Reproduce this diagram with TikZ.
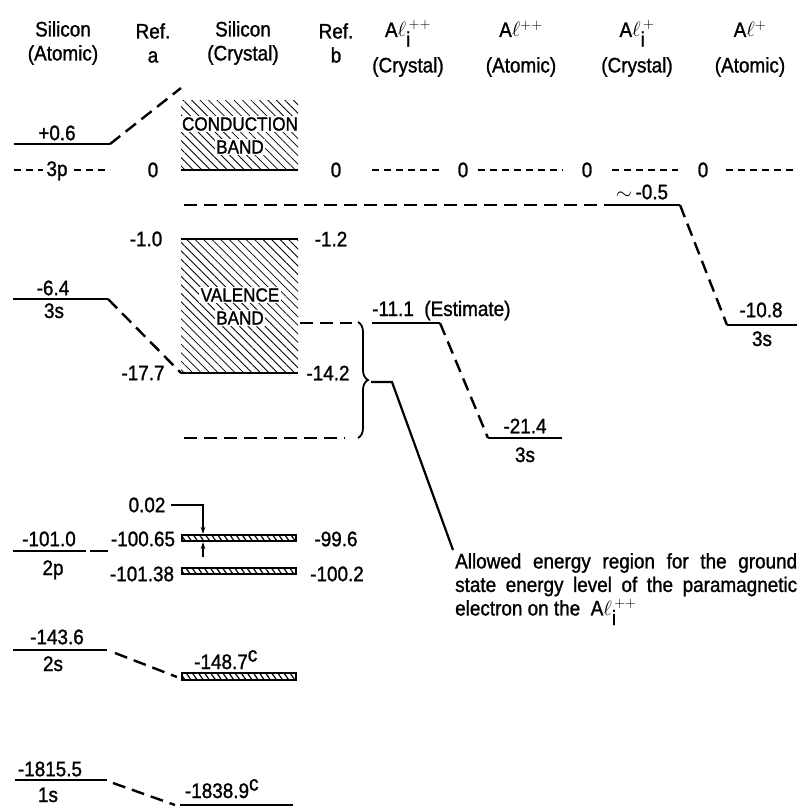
\documentclass[tikz,border=0pt]{standalone}
\usepackage{fontspec}
\setmainfont[FakeStretch=0.9,FakeBold=1.2]{Liberation Sans}
\usetikzlibrary{patterns.meta,decorations.pathreplacing,arrows.meta}
\begin{document}
\begin{tikzpicture}[x=1pt,y=-1pt,
  txt/.style={font=\fontsize{21}{24}\selectfont, inner sep=0pt},
  hdr/.style={txt, align=center, font=\fontsize{21}{24}\selectfont},
  bandlbl/.style={font=\fontsize{19}{22}\selectfont, fill=white, inner sep=1.5pt},
  lvl/.style={line width=2.4pt},
  bigdash/.style={line width=2.4pt, dash pattern=on 13pt off 7pt},
  smalldash/.style={line width=2pt, dash pattern=on 7pt off 5pt},
  hatch/.style={pattern={Lines[angle=-45,distance=6pt,line width=0.8pt]}},
  thinband/.style={line width=1.2pt, pattern={Lines[angle=-55,distance=5pt,line width=1.2pt]}},
  leader/.style={line width=2.2pt},
  arr/.style={line width=1.1pt, -{Stealth[length=7pt,width=4.5pt]}},
]
\useasboundingbox (0,0) rectangle (799,808);

% ---------- headers
\node[hdr] (hSiA) at (63,43) {Silicon\\(Atomic)};
\node[hdr] (hRa) at (153,43) {Ref.\\a};
\node[hdr] (hSiC) at (243,43) {Silicon\\(Crystal)};
\node[hdr] (hRb) at (336,43) {Ref.\\b};
\node[txt, anchor=base] (hAl1) at (408,37) {A$\ell_{\textrm{i}}^{\,++}$};
\node[txt] (hAl1c) at (408,67) {(Crystal)};
\node[txt, anchor=base] (hAl2) at (521,37) {A$\ell^{++}$};
\node[txt] (hAl2c) at (521,67) {(Atomic)};
\node[txt, anchor=base] (hAl3) at (637,37) {A$\ell_{\textrm{i}}^{\,+}$};
\node[txt] (hAl3c) at (637,67) {(Crystal)};
\node[txt, anchor=base] (hAl4) at (750,37) {A$\ell^{+}$};
\node[txt] (hAl4c) at (750,67) {(Atomic)};

% ---------- silicon 3p / conduction band
\coordinate (p06L) at (14,144); \coordinate (p06R) at (110,144);
\draw[lvl] (p06L) -- (p06R);
\node[txt] (l06) at (57,133) {+0.6};
\coordinate (cbUp) at (181,88);
\draw[bigdash] (p06R) -- (cbUp);

\coordinate (p3L) at (14,170); \coordinate (p3R) at (110,170);
\draw[smalldash] (p3L) -- (p3R);
\node[txt, anchor=base, fill=white, inner xsep=3pt, inner ysep=1pt] (l3p) at (57,176) {3p};
\node[txt] (z1) at (153,170) {0};

\path[hatch] (181,100) rectangle (298,170);
\coordinate (cbL) at (181,170); \coordinate (cbR) at (298,170);
\draw[lvl] (cbL) -- (cbR);
\node[bandlbl] (cb1) at (240,124) {CONDUCTION};
\node[bandlbl] (cb2) at (240,147) {BAND};
\node[txt] (z2) at (336,170) {0};

% zero levels of Al columns
\coordinate (a1L) at (372,170); \coordinate (a1R) at (443,170);
\draw[smalldash] (a1L) -- (a1R);
\node[txt] (z3) at (463,170) {0};
\coordinate (a2L) at (478,170); \coordinate (a2R) at (563,170);
\draw[smalldash] (a2L) -- (a2R);
\node[txt] (z4) at (587,170) {0};
\coordinate (a3L) at (612,170); \coordinate (a3R) at (678,170);
\draw[smalldash] (a3L) -- (a3R);
\node[txt] (z5) at (703,170) {0};
\coordinate (a4L) at (726,170); \coordinate (a4R) at (793,170);
\draw[smalldash] (a4L) -- (a4R);

% Al_i^+ crystal level ~ -0.5 and Al+ atomic 3s
\coordinate (d05L) at (184,205); \coordinate (d05M) at (612,205); \coordinate (d05R) at (680,205);
\draw[bigdash] (d05L) -- (d05M);
\draw[lvl] (d05M) -- (d05R);
\node[txt] (l05) at (642,192) {$\sim$\,-0.5};
\coordinate (s108L) at (727,325); \coordinate (s108R) at (797,325);
\draw[bigdash] (d05R) -- (s108L);
\draw[lvl] (s108L) -- (s108R);
\node[txt] (l108) at (761,310) {-10.8};
\node[txt, anchor=base] (l108s) at (762,346) {3s};

% ---------- valence band
\path[hatch] (181,239) rectangle (298,373);
\coordinate (vbTL) at (181,239); \coordinate (vbTR) at (298,239);
\coordinate (vbBL) at (181,373); \coordinate (vbBR) at (298,373);
\draw[lvl] (vbTL) -- (vbTR);
\draw[lvl] (vbBL) -- (vbBR);
\node[bandlbl] (vb1) at (240,295) {VALENCE};
\node[bandlbl] (vb2) at (240,318) {BAND};
\node[txt] (l10) at (146,239) {-1.0};
\node[txt] (l12) at (331,239) {-1.2};
\node[txt] (l177) at (143,373) {-17.7};
\node[txt] (l142) at (328,373) {-14.2};

\coordinate (s3L) at (13,299); \coordinate (s3R) at (108,299);
\draw[lvl] (s3L) -- (s3R);
\node[txt] (l64) at (53,288) {-6.4};
\node[txt, anchor=base] (l3s) at (54,318) {3s};
\draw[bigdash] (s3R) -- (vbBL);

\coordinate (vdL) at (300,323); \coordinate (vdR) at (352,323);
\draw[bigdash] (vdL) -- (vdR);
\coordinate (bdL) at (184,438); \coordinate (bdR) at (345,438);
\draw[bigdash] (bdL) -- (bdR);

% brace and leader
\coordinate (brT) at (358,322); \coordinate (brB) at (358,438);
\draw[line width=1.8pt, decorate, decoration={brace, amplitude=10pt}] (brT) -- (brB);
\coordinate (brTip) at (371,382); \coordinate (ldK) at (392,382); \coordinate (ldE) at (453,550);
\draw[leader] (brTip) -- (ldK) -- (ldE);

% Al_i^{++} crystal and Al^{++} atomic
\coordinate (e111L) at (372,323); \coordinate (e111R) at (440,323);
\draw[lvl] (e111L) -- (e111R);
\node[txt, anchor=base west] (l111) at (372,316) {-11.1\enspace(Estimate)};
\coordinate (s214L) at (488,438); \coordinate (s214R) at (562,438);
\draw[bigdash] (e111R) -- (s214L);
\draw[lvl] (s214L) -- (s214R);
\node[txt] (l214) at (525,426) {-21.4};
\node[txt, anchor=base] (l214s) at (525,462) {3s};

% annotation
\node[txt, anchor=north west, text width=342pt, align=justify,
      font=\fontsize{21}{23.5}\selectfont] (note) at (455,553)
  {Allowed energy region for the ground\linebreak state energy level of the paramagnetic\linebreak electron on the\enspace A$\ell_{\textrm{i}}^{\,++}$};

% ---------- 2p
\coordinate (p2L) at (13,551); \coordinate (p2G) at (86,551);
\coordinate (p2H) at (90,551); \coordinate (p2R) at (108,551);
\draw[lvl] (p2L) -- (p2G);
\draw[lvl] (p2H) -- (p2R);
\node[txt] (l1010) at (49,539) {-101.0};
\node[txt, anchor=base] (l2p) at (53,575) {2p};
\node[txt] (l10065) at (143,539) {-100.65};
\node[txt] (l10138) at (142,574) {-101.38};
\draw[thinband] (182,535) rectangle (296,541);
\draw[thinband] (182,568) rectangle (296,574);
\node[txt] (l996) at (336,539) {-99.6};
\node[txt] (l1002) at (337,574) {-100.2};
\node[txt] (l002) at (147,505) {0.02};
\coordinate (arK) at (203,505); \coordinate (arT) at (203,534);
\draw[arr] (l002.east) ++(5,0) -- (arK) -- (arT);
\coordinate (arB0) at (203,557); \coordinate (arB) at (203,542);
\draw[arr] (arB0) -- (arB);

% ---------- 2s
\coordinate (s2L) at (13,650); \coordinate (s2R) at (107,650);
\draw[lvl] (s2L) -- (s2R);
\node[txt] (l1436) at (57,637) {-143.6};
\node[txt, anchor=base] (l2s) at (53,671) {2s};
\coordinate (s2a) at (115,653); \coordinate (s2b) at (177,677);
\draw[bigdash] (s2a) -- (s2b);
\draw[thinband] (182,673) rectangle (296,680);
\node[txt, anchor=base] (l1487) at (226,669) {-148.7$^{\textrm{c}}$};

% ---------- 1s
\coordinate (s1L) at (15,780); \coordinate (s1R) at (107,780);
\draw[lvl] (s1L) -- (s1R);
\node[txt] (l18155) at (50,769) {-1815.5};
\node[txt, anchor=base] (l1s) at (48,802) {1s};
\coordinate (s1a) at (113,783); \coordinate (s1b) at (175,805);
\draw[bigdash] (s1a) -- (s1b);
\coordinate (c1L) at (180,805); \coordinate (c1R) at (293,805);
\draw[lvl] (c1L) -- (c1R);
\node[txt, anchor=base] (l18389) at (222,798) {-1838.9$^{\textrm{c}}$};
\end{tikzpicture}
\end{document}
